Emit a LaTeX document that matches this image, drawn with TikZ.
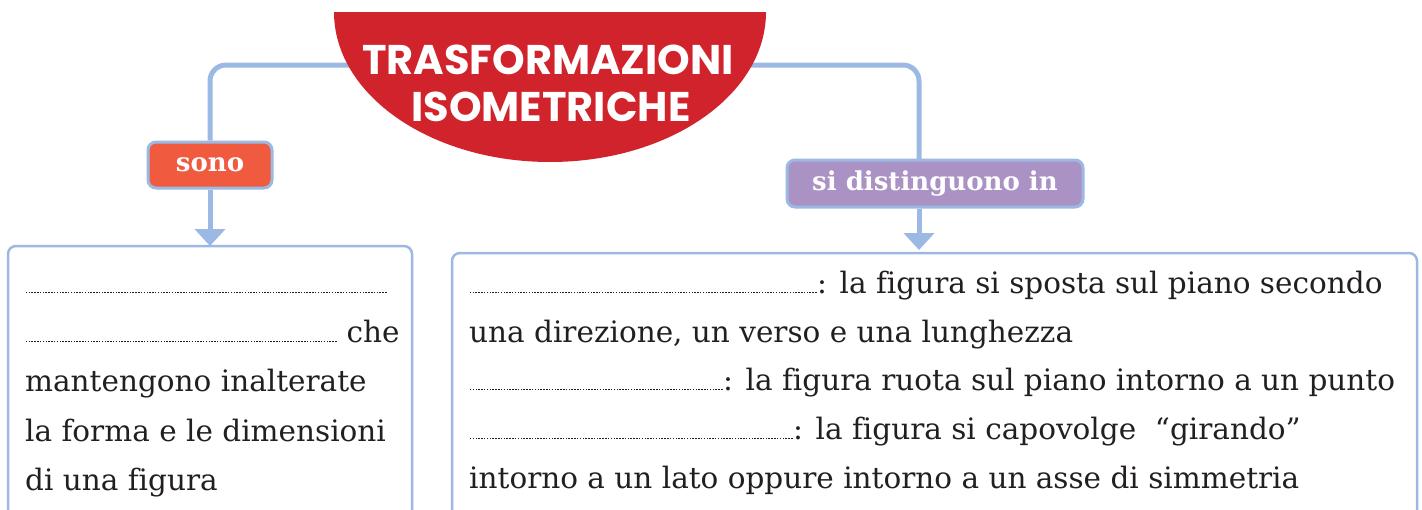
\documentclass[tikz,border=0pt]{standalone}
\usepackage{fontspec}
\setmainfont{DejaVu Serif}[Ligatures=NoCommon]
\newfontfamily\titlefont{Poppins}
\usetikzlibrary{arrows.meta}
\definecolor{linkblue}{HTML}{9BB9E2}
\definecolor{titlered}{HTML}{D0232B}
\definecolor{sonoorange}{HTML}{F05B40}
\definecolor{lavender}{HTML}{AA92C4}
\definecolor{ink}{HTML}{231F20}
\newcommand\dotsline[1]{\xleaders\hbox to 2.8pt{\hss\rule{1.5pt}{1.5pt}\hss}\hskip #1\relax}
\tikzset{
  conn/.style={draw=linkblue, line width=5pt},
  arrowconn/.style={conn, -{Triangle[length=17pt,width=30pt]}},
  boxline/.style={draw=linkblue, line width=2.5pt, rounded corners=8pt},
  label/.style={rectangle, rounded corners=8pt, draw=linkblue, line width=3pt,
     text=white, font=\fontsize{26}{30}\selectfont\bfseries, inner sep=0pt},
  body/.style={anchor=base west, inner sep=0pt, text=ink, font=\fontsize{29.5}{34}\selectfont},
  titletext/.style={anchor=base, inner sep=0pt, text=white, font=\titlefont\bfseries\fontsize{41.5}{47}\selectfont}
}
\begin{document}
\begin{tikzpicture}[x=1pt,y=-1pt]
\useasboundingbox (0,0) rectangle (1422,509);
% boxes (open at the bottom)
\draw[boxline] (8,530) -- (8,246) -- (412,246) -- (412,530);
\draw[boxline] (452,530) -- (452,253) -- (1417,253) -- (1417,530);
% label nodes
\node[label, fill=sonoorange, minimum width=124pt, minimum height=46pt] (sono) at (210,165) {sono};
\node[label, fill=lavender, minimum width=296pt, minimum height=47pt] (sid) at (935,183.5) {si distinguono in};
\coordinate (tl) at (420,65);
\coordinate (tr) at (680,65);
\coordinate (rj) at (919,160);
\coordinate (la) at (210,246);
\coordinate (ra) at (919,250);
% connectors
\draw[conn, rounded corners=16pt] (tl) -| (sono.north);
\draw[conn, rounded corners=16pt] (tr) -| (rj);
\draw[arrowconn] (sono.south) -- (la);
\draw[arrowconn] (rj |- sid.south) -- (ra);
% title shape
\fill[titlered] (334,12) arc[start angle=180, end angle=0, x radius=216, y radius=150] -- cycle;
\node[titletext] (t1) at (548,74) {TRASFORMAZIONI};
\node[titletext] (t2) at (551,121) {ISOMETRICHE};
% left box text
\node[body] (l1) at (25,293) {\dotsline{362pt}\mbox{}};
\node[body] (l2) at (25,342) {\dotsline{312pt} che};
\node[body] (l3) at (25,391) {mantengono inalterate};
\node[body] (l4) at (25,441) {la forma e le dimensioni};
\node[body] (l5) at (25,490) {di una figura};
% right box text
\node[body] (r1) at (469,293) {\dotsline{348pt}: la figura si sposta sul piano secondo};
\node[body] (r2) at (469,342) {una direzione, un verso e una lunghezza};
\node[body] (r3) at (469,390) {\dotsline{254pt}: la figura ruota sul piano intorno a un punto};
\node[body] (r4) at (469,439) {\dotsline{324pt}: la figura si capovolge\ \ “girando”};
\node[body] (r5) at (469,488) {intorno a un lato oppure intorno a un asse di simmetria};
\end{tikzpicture}
\end{document}
